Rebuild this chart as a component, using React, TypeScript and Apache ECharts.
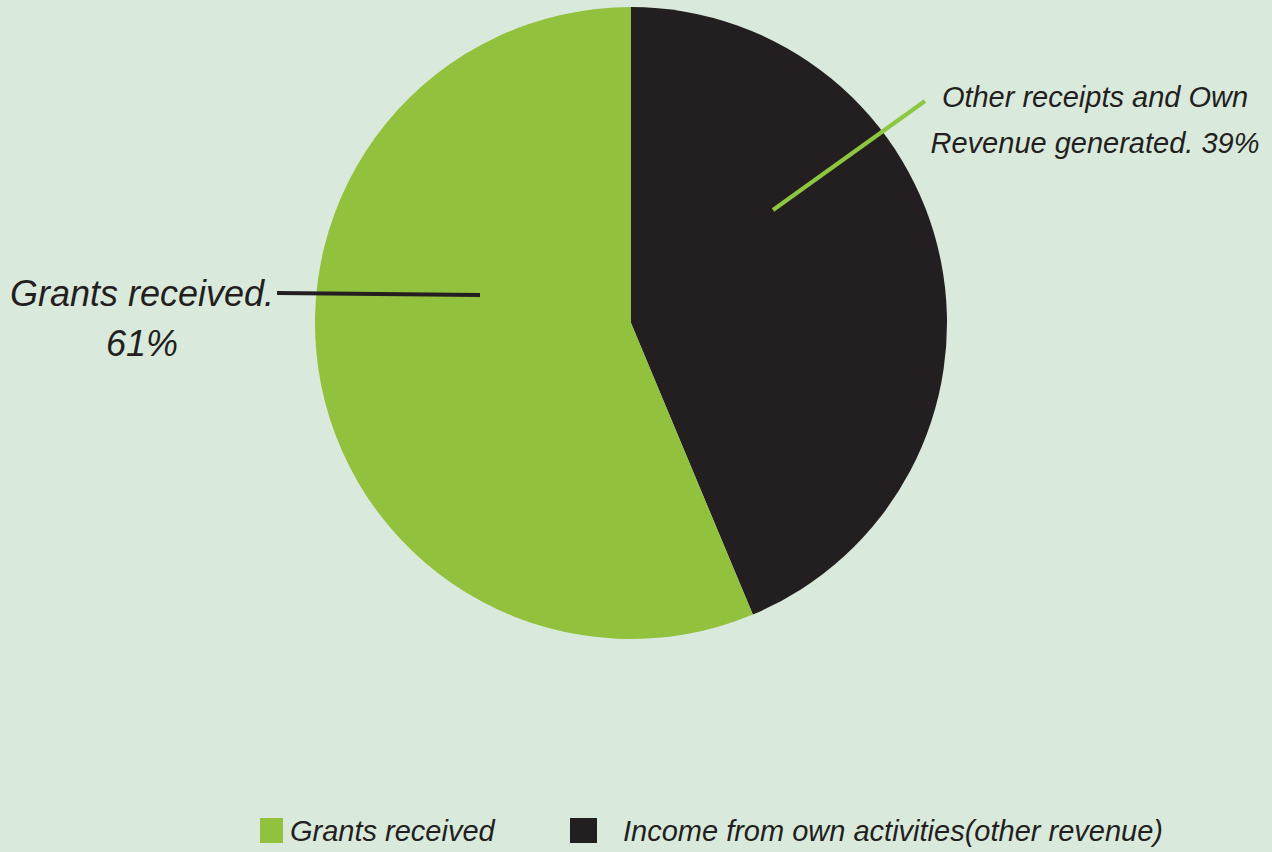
import React, { useEffect, useRef } from "react";
import * as echarts from "echarts";

// Slices in drawing order (clockwise from 12 o'clock), shares as drawn in the picture
const sliceNames = ["Income from own activities(other revenue)", "Grants received"];
const sliceValues = [43.7, 56.3];
const sliceLabels = ["Other receipts and Own\nRevenue generated. 39%", "Grants received.\n61%"];
const legendNames = ["Grants received", "Income from own activities(other revenue)"];

const GREEN = "#92C13E";
const DARK = "#231F20";
const BG = "#D9EADC";
const FONT = "'Liberation Sans', Arial, sans-serif";

export default function App() {
  const ref = useRef<HTMLDivElement>(null);
  useEffect(() => {
    if (!ref.current) return;
    const chart = echarts.init(ref.current, undefined, { renderer: "svg" });
    const colors = [DARK, GREEN];
    chart.setOption({
      animation: false,
      backgroundColor: BG,
      series: [
        {
          type: "pie",
          center: [631, 323],
          radius: 316,
          startAngle: 90,
          clockwise: true,
          silent: true,
          data: sliceNames.map((n, i) => ({
            name: n,
            value: sliceValues[i],
            itemStyle: { color: colors[i] },
            label: {
              formatter: sliceLabels[i],
              fontSize: i === 0 ? 29 : 36,
              lineHeight: i === 0 ? 46 : 50,
            },
          })),
          label: {
            show: true,
            position: "outside",
            color: DARK,
            fontStyle: "italic",
            fontFamily: FONT,
            align: "center",
            overflow: "none",
            width: 400,
          },
          labelLine: { show: false },
          labelLayout: (params: any) => {
            if (params.dataIndex === 0) {
              return { x: 1095, y: 120, align: "center", verticalAlign: "middle" };
            }
            return { x: 142, y: 318, align: "center", verticalAlign: "middle" };
          },
        },
      ],
      graphic: [
        {
          type: "line",
          z: 100,
          shape: { x1: 773, y1: 210, x2: 925, y2: 101 },
          style: { stroke: "#8DC63F", lineWidth: 4 },
        },
        {
          type: "line",
          z: 100,
          shape: { x1: 277, y1: 293, x2: 480, y2: 295 },
          style: { stroke: DARK, lineWidth: 4 },
        },
        { type: "rect", shape: { x: 260, y: 818, width: 23, height: 25 }, style: { fill: GREEN } },
        {
          type: "text",
          x: 290,
          y: 831,
          style: {
            text: legendNames[0],
            fill: DARK,
            font: `italic 29px ${FONT}`,
            verticalAlign: "middle",
          },
        },
        { type: "rect", shape: { x: 570, y: 818, width: 27, height: 25 }, style: { fill: DARK } },
        {
          type: "text",
          x: 623,
          y: 831,
          style: {
            text: legendNames[1],
            fill: DARK,
            font: `italic 29px ${FONT}`,
            verticalAlign: "middle",
          },
        },
      ],
    });
    return () => chart.dispose();
  }, []);
  return (
    <div
      ref={ref}
      style={{ position: "fixed", left: 0, top: 0, width: 1272, height: 852 }}
    />
  );
}
